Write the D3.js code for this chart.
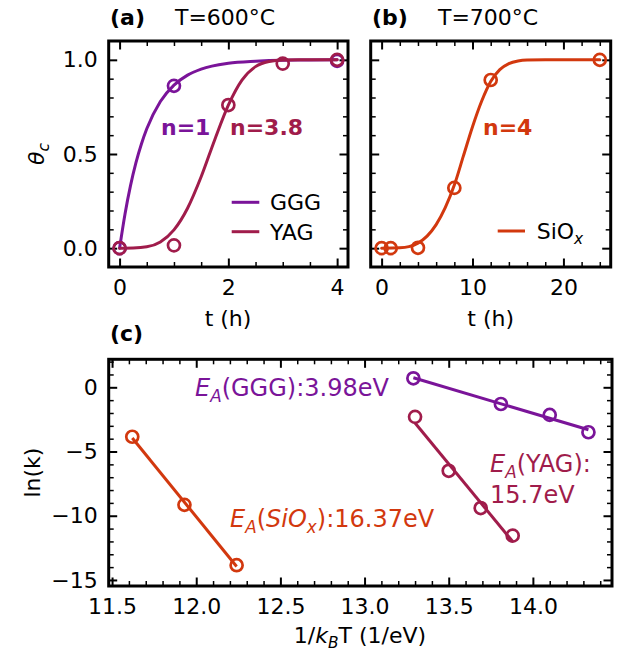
<!DOCTYPE html>
<html><head><meta charset="utf-8">
<script src="https://cdn.jsdelivr.net/npm/d3@7"></script>
<style>body{margin:0;background:#fff}svg{display:block;font-family:"DejaVu Sans",sans-serif}</style>
</head><body><div id="chart"></div>
<script>
// ---------- DATA ----------
// Panel (a) T=600°C : measured points
const aGGG_t = [0, 1, 4];
const aGGG_theta = [0, 0.862, 0.995];
const aYAG_t = [0, 1, 2, 3, 4];
const aYAG_theta = [0, 0.015, 0.76, 0.98, 1.0];
// Panel (a) fitted curves
const fitGGG_t = [0, 0.1, 0.2, 0.3, 0.4, 0.5, 0.75, 1, 1.25, 1.5, 2, 2.5, 3, 3.5, 4];
const fitGGG_theta = [0, 0.182, 0.331, 0.453, 0.552, 0.634, 0.779, 0.866, 0.919, 0.951, 0.982, 0.993, 0.998, 0.999, 1.0];
const fitYAG_t = [0, 0.25, 0.5, 0.75, 1, 1.25, 1.5, 1.75, 2, 2.25, 2.5, 2.75, 3, 3.5, 4];
const fitYAG_theta = [0, 0.001, 0.007, 0.033, 0.097, 0.212, 0.379, 0.576, 0.759, 0.892, 0.964, 0.991, 0.999, 1.0, 1.0];
// Panel (b) T=700°C
const bSiOx_t = [0, 1, 4, 8, 12, 24];
const bSiOx_theta = [0, 0, 0.002, 0.32, 0.893, 1.0];
const fitSiOx_t = [0, 2, 3, 4, 5, 6, 7, 8, 9, 10, 11, 12, 13, 14, 15, 16, 18, 20, 24];
const fitSiOx_theta = [0, 0.002, 0.008, 0.027, 0.064, 0.125, 0.215, 0.335, 0.49, 0.645, 0.78, 0.885, 0.948, 0.98, 0.994, 0.999, 1.0, 1.0, 1.0];
// Panel (c) Arrhenius
const cGGG_x = [13.29, 13.81, 14.10, 14.33];
const cGGG_lnk = [0.7, -1.3, -2.15, -3.5];
const cYAG_x = [13.30, 13.50, 13.69, 13.88];
const cYAG_lnk = [-2.3, -6.5, -9.4, -11.55];
const cSiOx_x = [11.62, 11.93, 12.24];
const cSiOx_lnk = [-3.85, -9.15, -13.85];
// ticks
const aXMajor = [0, 2, 4], aXMinor = [0.5, 1, 1.5, 2.5, 3, 3.5];
const bXMajor = [0, 10, 20], bXMinor = [2, 4, 6, 8, 12, 14, 16, 18, 22, 24];
const thetaMajor = [0, 0.5, 1.0], thetaMinor = [0.1, 0.2, 0.3, 0.4, 0.6, 0.7, 0.8, 0.9];
const cXMajor = [11.5, 12.0, 12.5, 13.0, 13.5, 14.0];
const cYMajor = [0, -5, -10, -15];
const nLabels = ["n=1", "n=3.8", "n=4"];
const seriesNames = ["GGG", "YAG", "SiO"];
const eaLabels = ["3.98eV", "15.7eV", "16.37eV"];

// ---------- STYLE ----------
const C_GGG = "#7a1499", C_YAG = "#a01c4b", C_SIO = "#d2380e";
const FS = 22, FS_ANN = 24;
const W = 622, H = 656;

const svg = d3.select("#chart").append("svg").attr("width", W).attr("height", H);

function range(a, b, s) { const r = []; for (let v = a; v <= b + 1e-9; v += s) r.push(+v.toFixed(6)); return r; }

function panel(o) {
  const g = svg.append("g");
  const x = d3.scaleLinear().domain(o.xd).range([o.x0, o.x1]);
  const y = d3.scaleLinear().domain(o.yd).range([o.y1, o.y0]);
  const majorLen = 8.5, minorLen = 5, MW = 2, mw = 1.5;
  g.append("g").attr("transform", `translate(0,${o.y1})`)
    .call(d3.axisBottom(x).tickValues(o.xMajor).tickSize(-majorLen).tickPadding(12).tickFormat(o.xFmt))
    .call(s => { s.select(".domain").remove(); s.selectAll("line").attr("stroke-width", MW); s.selectAll("text").attr("font-size", FS).attr("font-family", "DejaVu Sans").attr("fill", "#000"); });
  g.append("g").attr("transform", `translate(0,${o.y1})`)
    .call(d3.axisBottom(x).tickValues(o.xMinor).tickSize(-minorLen).tickFormat(""))
    .call(s => { s.select(".domain").remove(); s.selectAll("line").attr("stroke-width", mw); });
  g.append("g").attr("transform", `translate(0,${o.y0})`)
    .call(d3.axisTop(x).tickValues(o.xMajor).tickSize(-majorLen).tickFormat(""))
    .call(s => { s.select(".domain").remove(); s.selectAll("line").attr("stroke-width", MW); });
  g.append("g").attr("transform", `translate(0,${o.y0})`)
    .call(d3.axisTop(x).tickValues(o.xMinor).tickSize(-minorLen).tickFormat(""))
    .call(s => { s.select(".domain").remove(); s.selectAll("line").attr("stroke-width", mw); });
  const la = d3.axisLeft(y).tickValues(o.yMajor).tickSize(-majorLen).tickPadding(11);
  la.tickFormat(o.showY ? o.yFmt : "");
  g.append("g").attr("transform", `translate(${o.x0},0)`)
    .call(la)
    .call(s => { s.select(".domain").remove(); s.selectAll("line").attr("stroke-width", MW); s.selectAll("text").attr("font-size", FS).attr("font-family", "DejaVu Sans").attr("fill", "#000"); });
  g.append("g").attr("transform", `translate(${o.x0},0)`)
    .call(d3.axisLeft(y).tickValues(o.yMinor).tickSize(-minorLen).tickFormat(""))
    .call(s => { s.select(".domain").remove(); s.selectAll("line").attr("stroke-width", mw); });
  g.append("g").attr("transform", `translate(${o.x1},0)`)
    .call(d3.axisRight(y).tickValues(o.yMajor).tickSize(-majorLen).tickFormat(""))
    .call(s => { s.select(".domain").remove(); s.selectAll("line").attr("stroke-width", MW); });
  g.append("g").attr("transform", `translate(${o.x1},0)`)
    .call(d3.axisRight(y).tickValues(o.yMinor).tickSize(-minorLen).tickFormat(""))
    .call(s => { s.select(".domain").remove(); s.selectAll("line").attr("stroke-width", mw); });
  const plot = svg.append("g");
  const frame = () => svg.append("rect").attr("x", o.x0).attr("y", o.y0).attr("width", o.x1 - o.x0).attr("height", o.y1 - o.y0)
    .attr("fill", "none").attr("stroke", "#000").attr("stroke-width", 3);
  return { x, y, plot, frame };
}

function curve(p, xs, ys, color) {
  const line = d3.line().x(d => p.x(d[0])).y(d => p.y(d[1])).curve(d3.curveMonotoneX);
  p.plot.append("path").datum(xs.map((v, i) => [v, ys[i]])).attr("d", line)
    .attr("fill", "none").attr("stroke", color).attr("stroke-width", 3).attr("stroke-linecap", "round");
}
function dots(p, xs, ys, color) {
  p.plot.selectAll(null).data(xs.map((v, i) => [v, ys[i]])).enter().append("circle")
    .attr("cx", d => p.x(d[0])).attr("cy", d => p.y(d[1])).attr("r", 6)
    .attr("fill", "none").attr("stroke", color).attr("stroke-width", 2.7);
}
function fitLine(p, xs, ys, color) {
  const n = xs.length, mx = d3.mean(xs), my = d3.mean(ys);
  let sxy = 0, sxx = 0;
  for (let i = 0; i < n; i++) { sxy += (xs[i] - mx) * (ys[i] - my); sxx += (xs[i] - mx) ** 2; }
  const b = sxy / sxx, a = my - b * mx;
  const ex = d3.extent(xs);
  p.plot.append("path").datum(ex.map(v => [v, a + b * v]))
    .attr("d", d3.line().x(d => p.x(d[0])).y(d => p.y(d[1])))
    .attr("fill", "none").attr("stroke", color).attr("stroke-width", 3);
}
function txt(x, y, opts = {}) {
  const t = svg.append("text").attr("x", x).attr("y", y).attr("font-size", opts.fs || FS)
    .attr("fill", opts.fill || "#000").attr("font-family", "DejaVu Sans");
  if (opts.anchor) t.attr("text-anchor", opts.anchor);
  if (opts.weight) t.attr("font-weight", opts.weight);
  if (opts.rotate) t.attr("transform", `rotate(${opts.rotate},${x},${y})`);
  return t;
}
function parts(t, arr, fs = FS) {
  let shifted = false;
  const d = Math.round(fs * 0.23);
  arr.forEach(([s, f = {}]) => {
    const sp = t.append("tspan").text(s);
    if (f.italic) sp.attr("font-style", "italic");
    if (f.sub && !shifted) { sp.attr("dy", d).attr("font-size", fs * 0.7); shifted = true; }
    else if (f.sub) { sp.attr("font-size", fs * 0.7); }
    else if (!f.sub && shifted) { sp.attr("dy", -d); shifted = false; }
  });
}

// ---------- PANEL (a) ----------
const pa = panel({ x0: 108.7, x1: 348, y0: 41, y1: 267, xd: [-0.2, 4.2], yd: [-0.1, 1.1],
  xMajor: aXMajor, xMinor: aXMinor, yMajor: thetaMajor, yMinor: thetaMinor,
  xFmt: d3.format("d"), yFmt: d3.format(".1f"), showY: true });
curve(pa, fitGGG_t, fitGGG_theta, C_GGG);
curve(pa, fitYAG_t, fitYAG_theta, C_YAG);
dots(pa, aGGG_t, aGGG_theta, C_GGG);
dots(pa, aYAG_t, aYAG_theta, C_YAG);
pa.frame();

// ---------- PANEL (b) ----------
const pb = panel({ x0: 370.7, x1: 610.7, y0: 41, y1: 267, xd: [-1.2, 25.2], yd: [-0.1, 1.1],
  xMajor: bXMajor, xMinor: bXMinor, yMajor: thetaMajor, yMinor: thetaMinor,
  xFmt: d3.format("d"), yFmt: d3.format(".1f"), showY: false });
curve(pb, fitSiOx_t, fitSiOx_theta, C_SIO);
dots(pb, bSiOx_t, bSiOx_theta, C_SIO);
pb.frame();

// ---------- PANEL (c) ----------
const pc = panel({ x0: 108.7, x1: 612, y0: 359.3, y1: 586, xd: [11.48, 14.47], yd: [-15.47, 2.18],
  xMajor: cXMajor, xMinor: range(11.5, 14.4, 0.1).filter(v => !cXMajor.some(m => Math.abs(m - v) < 1e-6)),
  yMajor: cYMajor, yMinor: range(-15, 2, 1).filter(v => v % 5 !== 0),
  xFmt: d3.format(".1f"), yFmt: d3.format("d"), showY: true });
fitLine(pc, cGGG_x, cGGG_lnk, C_GGG);
fitLine(pc, cYAG_x, cYAG_lnk, C_YAG);
fitLine(pc, cSiOx_x, cSiOx_lnk, C_SIO);
dots(pc, cGGG_x, cGGG_lnk, C_GGG);
dots(pc, cYAG_x, cYAG_lnk, C_YAG);
dots(pc, cSiOx_x, cSiOx_lnk, C_SIO);
pc.frame();

// ---------- TEXT ----------
txt(110, 25, { weight: "bold" }).text("(a)");
txt(175, 25).text("T=600°C");
txt(372, 25, { weight: "bold" }).text("(b)");
txt(438, 25).text("T=700°C");
txt(110, 341, { weight: "bold" }).text("(c)");

txt(228, 326, { anchor: "middle" }).text("t (h)");
txt(490.7, 326, { anchor: "middle" }).text("t (h)");
parts(txt(44, 154, { anchor: "middle", rotate: -90 }), [["θ", { italic: true }], ["c", { italic: true, sub: true }]]);

// legends
[[C_GGG, seriesNames[0], 202.3], [C_YAG, seriesNames[1], 231.7]].forEach(([c, n, yy]) => {
  svg.append("line").attr("x1", 231.7).attr("x2", 259.3).attr("y1", yy).attr("y2", yy).attr("stroke", c).attr("stroke-width", 3);
  txt(270, yy + 8).text(n);
});
svg.append("line").attr("x1", 497.7).attr("x2", 525).attr("y1", 231).attr("y2", 231).attr("stroke", C_SIO).attr("stroke-width", 3);
parts(txt(536.7, 239), [[seriesNames[2]], ["x", { italic: true, sub: true }]]);

// n labels
txt(161, 135, { weight: "bold", fill: C_GGG }).text(nLabels[0]);
txt(230, 135, { weight: "bold", fill: C_YAG }).text(nLabels[1]);
txt(483, 135, { weight: "bold", fill: C_SIO }).text(nLabels[2]);

// panel c labels
parts(txt(40, 472.6, { anchor: "middle", rotate: -90 }), [["ln(k)"]]);
parts(txt(360, 643, { anchor: "middle" }), [["1/"], ["k", { italic: true }], ["B", { italic: true, sub: true }], ["T (1/eV)"]]);
parts(txt(195, 396, { fill: C_GGG, fs: FS_ANN }), [["E", { italic: true }], ["A", { italic: true, sub: true }], ["(GGG):" + eaLabels[0]]], FS_ANN);
parts(txt(490, 472, { fill: C_YAG, fs: FS_ANN }), [["E", { italic: true }], ["A", { italic: true, sub: true }], ["(YAG):"]], FS_ANN);
txt(490, 503, { fill: C_YAG, fs: FS_ANN }).text(eaLabels[1]);
parts(txt(230, 527, { fill: C_SIO, fs: FS_ANN }), [["E", { italic: true }], ["A", { italic: true, sub: true }], ["("], ["SiO", { italic: true }], ["x", { italic: true, sub: true }], ["):" + eaLabels[2]]], FS_ANN);
</script></body></html>
